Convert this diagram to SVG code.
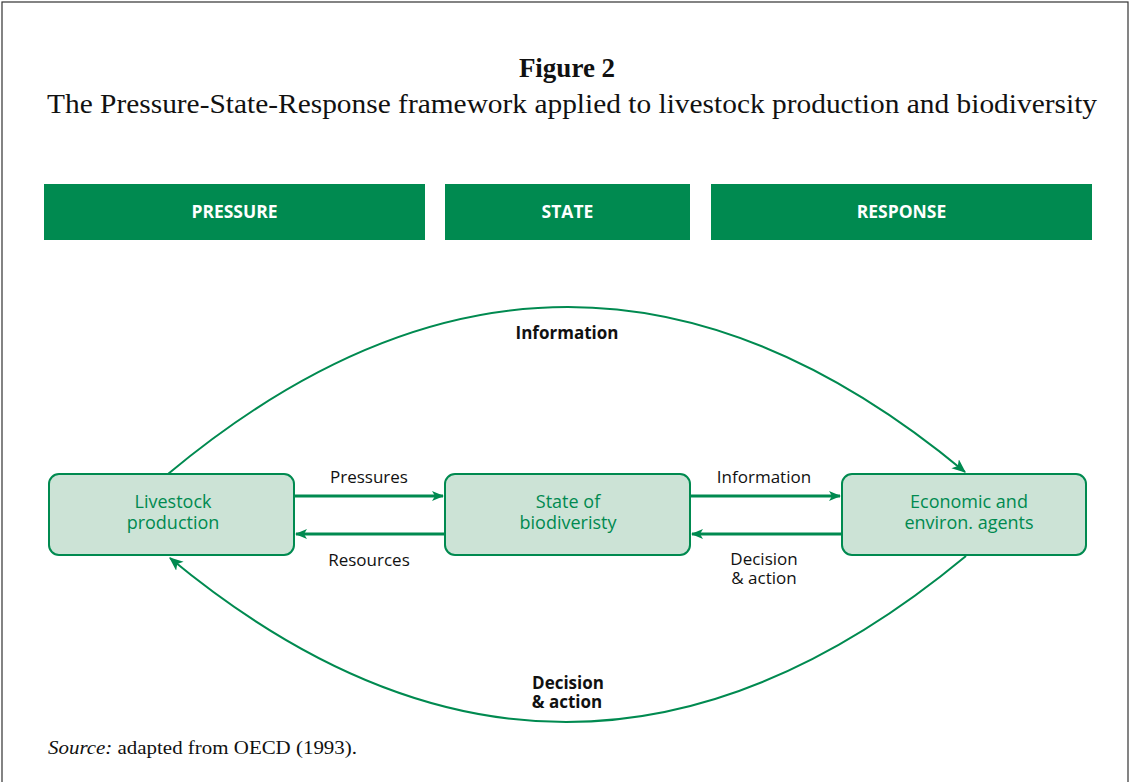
<svg xmlns="http://www.w3.org/2000/svg" width="1130" height="782" viewBox="0 0 1130 782">
<style>
.frame{fill:#fff;stroke:#333;stroke-width:1.2}
.bar{fill:#008a50}
.bartxt{font-family:"Open Sans","Noto Sans",sans-serif;font-weight:bold;font-size:17.5px;fill:#fff;text-anchor:middle}
.node{fill:#cce3d6;stroke:#008a50;stroke-width:2}
.ntxt{font-family:"Open Sans","Noto Sans",sans-serif;font-size:18px;fill:#008a50;text-anchor:middle}
.lbl{font-family:"Open Sans","Noto Sans",sans-serif;font-size:17px;fill:#111;text-anchor:middle}
.blbl{font-family:"Open Sans","Noto Sans",sans-serif;font-size:17px;font-weight:bold;fill:#111;text-anchor:middle}
.conn{fill:none;stroke:#008a50}
.straight{stroke-width:3}
.arc{stroke-width:2}
.title{font-family:"Liberation Serif",serif;fill:#111}
</style>
<defs>
<marker id="ah" viewBox="0 0 12 10" refX="11" refY="5" markerWidth="12" markerHeight="10" markerUnits="userSpaceOnUse" orient="auto">
<path d="M0,0 L12,5 L0,10 L3,5 z" fill="#008a50"/>
</marker>
<marker id="ah2" viewBox="0 0 12 10" refX="11" refY="5" markerWidth="14" markerHeight="12" markerUnits="userSpaceOnUse" orient="auto">
<path d="M0,0 L12,5 L0,10 L3,5 z" fill="#008a50"/>
</marker>
</defs>
<rect class="frame" x="2" y="2" width="1126" height="790"/>
<g id="title">
<text class="title" x="567" y="77" text-anchor="middle" font-size="27" font-weight="bold">Figure 2</text>
<text class="title" x="47" y="113" font-size="27" textLength="1050" lengthAdjust="spacingAndGlyphs">The Pressure-State-Response framework applied to livestock production and biodiversity</text>
</g>
<g id="header-pressure"><rect class="bar" x="44" y="184" width="381" height="56"/><text class="bartxt" x="234.5" y="218">PRESSURE</text></g>
<g id="header-state"><rect class="bar" x="445" y="184" width="245" height="56"/><text class="bartxt" x="567.5" y="218">STATE</text></g>
<g id="header-response"><rect class="bar" x="711" y="184" width="381" height="56"/><text class="bartxt" x="901.5" y="218">RESPONSE</text></g>
<g id="connectors">
<line class="conn straight" x1="294" y1="496" x2="443" y2="496" marker-end="url(#ah)"/>
<line class="conn straight" x1="445" y1="534" x2="296" y2="534" marker-end="url(#ah)"/>
<line class="conn straight" x1="690" y1="496" x2="840" y2="496" marker-end="url(#ah)"/>
<line class="conn straight" x1="842" y1="534" x2="692" y2="534" marker-end="url(#ah)"/>
<path class="conn arc" d="M168,474 Q567,141 965,472" marker-end="url(#ah2)"/>
<path class="conn arc" d="M966,556 Q567,887 170,558" marker-end="url(#ah2)"/>
<text class="lbl" x="369" y="483">Pressures</text>
<text class="lbl" x="369" y="566">Resources</text>
<text class="lbl" x="764" y="483">Information</text>
<text class="lbl" x="764" y="565">Decision</text>
<text class="lbl" x="764" y="584">&amp; action</text>
<text class="blbl" x="567" y="339">Information</text>
<text class="blbl" x="568" y="689">Decision</text>
<text class="blbl" x="567" y="708">&amp; action</text>
</g>
<g id="node-livestock"><rect class="node" x="49" y="474" width="245" height="81" rx="10"/><text class="ntxt" x="173" y="508">Livestock</text><text class="ntxt" x="173" y="529">production</text></g>
<g id="node-state"><rect class="node" x="445" y="474" width="245" height="81" rx="10"/><text class="ntxt" x="568" y="508">State of</text><text class="ntxt" x="568" y="529">biodiveristy</text></g>
<g id="node-agents"><rect class="node" x="842" y="474" width="244" height="81" rx="10"/><text class="ntxt" x="969" y="508">Economic and</text><text class="ntxt" x="969" y="529">environ.  agents</text></g>
<g id="source">
<text class="title" x="48" y="754" font-size="19" textLength="309" lengthAdjust="spacingAndGlyphs"><tspan font-style="italic">Source:</tspan> adapted from OECD (1993).</text>
</g>
</svg>
